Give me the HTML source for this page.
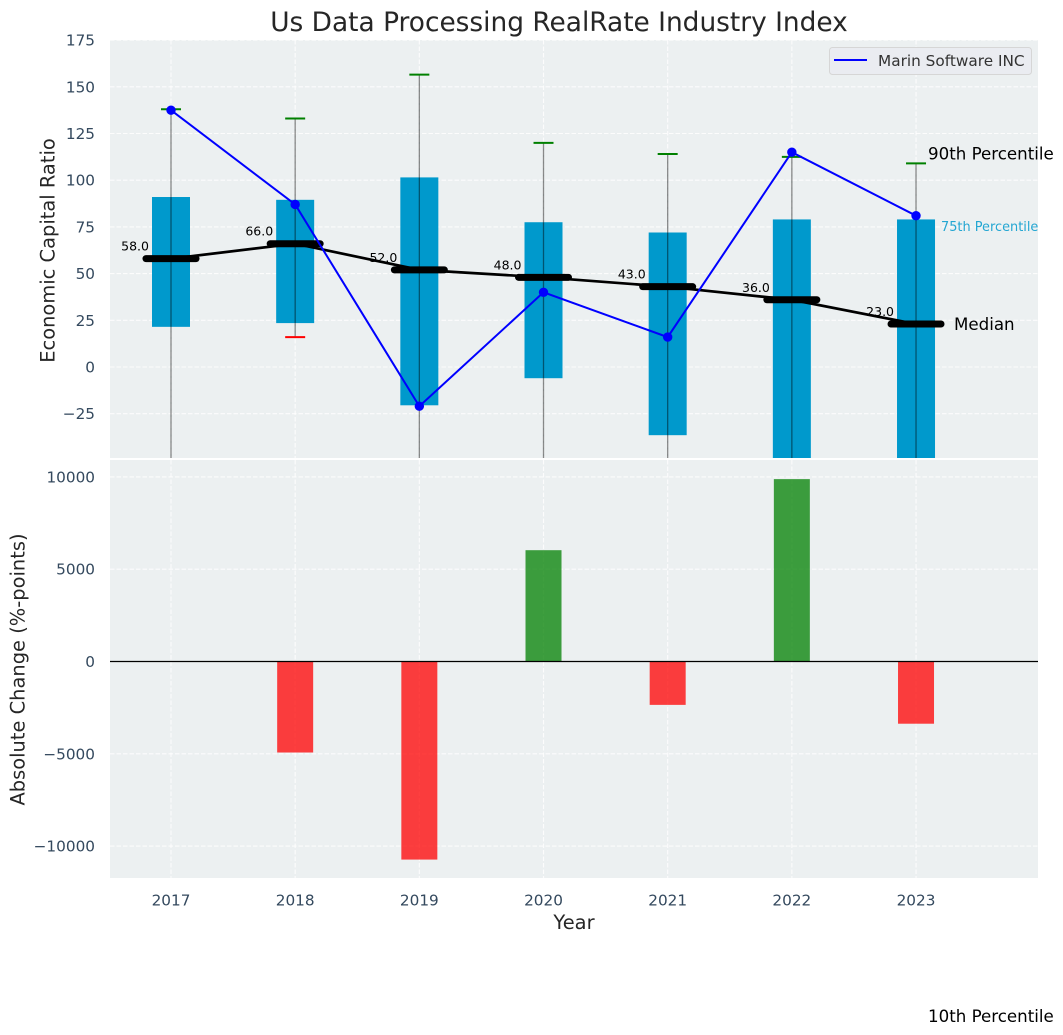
<!DOCTYPE html>
<html lang="en">
<head>
<meta charset="utf-8">
<title>Us Data Processing RealRate Industry Index</title>
<style>
html,body{margin:0;padding:0;background:#fff;width:1063px;height:1035px;overflow:hidden}
svg{display:block}
text{font-family:"DejaVu Sans","Liberation Sans",sans-serif}
</style>
</head>
<body>
<svg id="chart" xmlns="http://www.w3.org/2000/svg" width="1063" height="1035" viewBox="0 0 1063 1035">
  <defs>
    <clipPath id="top-clip"><rect x="110" y="40" width="928" height="418"/></clipPath>
    <clipPath id="bottom-clip"><rect x="110" y="460" width="928" height="418"/></clipPath>
  </defs>
  <rect x="110" y="40" width="928" height="418" fill="#ecf0f1"/>
  <rect x="110" y="460" width="928" height="418" fill="#ecf0f1"/>
  <g id="grid-top"></g>
  <g id="grid-bottom"></g>
  <g id="marks-top" clip-path="url(#top-clip)"></g>
  <g id="marks-bottom" clip-path="url(#bottom-clip)"></g>
  <g id="labels"></g>
  <text x="559" y="31" text-anchor="middle" font-size="26.4" fill="#262626">Us Data Processing RealRate Industry Index</text>
  <text transform="translate(54.5,250.5) rotate(-90)" text-anchor="middle" font-size="19.44" fill="#262626">Economic Capital Ratio</text>
  <text transform="translate(24.5,669.5) rotate(-90)" text-anchor="middle" font-size="19.44" fill="#262626">Absolute Change (%-points)</text>
  <text x="574" y="929" text-anchor="middle" font-size="19.44" fill="#262626">Year</text>
  <g>
    <rect x="829.5" y="47.5" width="202" height="27" rx="3" fill="#eaecf1" stroke="#d6d6d6" stroke-width="1"/>
    <line x1="834" y1="60" x2="867" y2="60" stroke="#0000ff" stroke-width="2"/>
    <text x="878" y="66" font-size="15.3" fill="#333333">Marin Software INC</text>
  </g>
</svg>
<script>
const years = [2017, 2018, 2019, 2020, 2021, 2022, 2023];
const companyValues = [137.5, 87, -21, 40, 16, 115, 81];
const medianValues = [58, 66, 52, 48, 43, 36, 23];
const p75Values = [91, 89.5, 101.5, 77.5, 72, 79, 79];
const p25Values = [21.5, 23.5, -20.5, -6, -36.5, -60, -60];
const p90Values = [138, 133, 156.5, 120, 114, 112.5, 109];
const p10Values = [-60, 16, -80, -70, -110, -150, -348];
const changeValues = [0, -4930, -10730, 6030, -2350, 9880, -3370];
const topTicks = [-25, 0, 25, 50, 75, 100, 125, 150, 175];
const bottomTicks = [-10000, -5000, 0, 5000, 10000];

const NS = 'http://www.w3.org/2000/svg';
const xScale = function (year) { return 171 + (year - 2017) * 124.17; };
const yTop = function (value) { return 367 - value * 1.868; };
const yBottom = function (value) { return 661.5 - value * 0.01846; };

const gridTop = document.getElementById('grid-top');
const gridBottom = document.getElementById('grid-bottom');
const marksTop = document.getElementById('marks-top');
const marksBottom = document.getElementById('marks-bottom');
const labels = document.getElementById('labels');

function make(tag, parent, attrs, content) {
  const node = document.createElementNS(NS, tag);
  Object.keys(attrs).forEach(function (k) { node.setAttribute(k, attrs[k]); });
  if (content !== undefined) node.textContent = content;
  parent.appendChild(node);
  return node;
}
const gridStyle = { stroke: '#ffffff', 'stroke-width': 1.1, 'stroke-dasharray': '4.5 2', opacity: 0.85 };
function gridLine(parent, x1, y1, x2, y2) {
  return make('line', parent, Object.assign({ x1: x1, y1: y1, x2: x2, y2: y2 }, gridStyle));
}

topTicks.forEach(function (t) {
  const gl = gridLine(gridTop, 110, yTop(t), 1038, yTop(t));
  
  
  const lb = make('text', labels, { x: 95, y: yTop(t) + 5.5, 'text-anchor': 'end', 'font-size': 15.28, fill: '#34495e' }, String(t).replace('-', '\u2212'));
  
  
});
bottomTicks.forEach(function (t) {
  const gl = gridLine(gridBottom, 110, yBottom(t), 1038, yBottom(t));
  
  
  const lb = make('text', labels, { x: 95, y: yBottom(t) + 5.5, 'text-anchor': 'end', 'font-size': 15.28, fill: '#34495e' }, String(t).replace('-', '\u2212'));
  
  
});

years.forEach(function (yr, i) {
  const x = xScale(yr);
  const g1 = gridLine(gridTop, x, 40, x, 458);
  
  
  const g2 = gridLine(gridBottom, x, 460, x, 878);
  
  
  const tl = make('text', labels, { x: x, y: 905.5, 'text-anchor': 'middle', 'font-size': 15.28, fill: '#34495e' }, String(yr));
  
  

  const box = make('rect', marksTop, { x: x - 19, y: yTop(p75Values[i]), width: 38, height: yTop(p25Values[i]) - yTop(p75Values[i]), fill: '#0099cc' });
  
  

  const whisker = make('line', marksTop, { x1: x, x2: x, y1: yTop(p90Values[i]), y2: yTop(p10Values[i]), stroke: '#000000', 'stroke-opacity': 0.45, 'stroke-width': 1.3 });
  
  

  const capHigh = make('line', marksTop, { x1: x - 10, x2: x + 10, y1: yTop(p90Values[i]), y2: yTop(p90Values[i]), stroke: '#008000', 'stroke-width': 2 });
  
  

  const capLow = make('line', marksTop, { x1: x - 10, x2: x + 10, y1: yTop(p10Values[i]), y2: yTop(p10Values[i]), stroke: '#ff0000', 'stroke-width': 2 });
  
  

  const change = changeValues[i];
  const bar = make('rect', marksBottom, { x: x - 18, y: Math.min(yBottom(change), yBottom(0)), width: 36, height: Math.abs(yBottom(change) - yBottom(0)), fill: change >= 0 ? '#008000' : '#ff0000', 'fill-opacity': 0.75 });
  
  
});

const zero = make('line', marksBottom, { x1: 110, x2: 1038, y1: yBottom(0), y2: yBottom(0), stroke: '#000000', 'stroke-width': 1.3 });



const medianPath = make('polyline', marksTop, { points: years.map(function (yr, i) { return xScale(yr) + ',' + yTop(medianValues[i]); }).join(' '), fill: 'none', stroke: '#000000', 'stroke-width': 2.7 });



years.forEach(function (yr, i) {
  const x = xScale(yr);
  const m = make('line', marksTop, { x1: x - 25, x2: x + 25, y1: yTop(medianValues[i]), y2: yTop(medianValues[i]), stroke: '#000000', 'stroke-width': 7, 'stroke-linecap': 'round' });
  
  
  const v = make('text', labels, { x: x - 22, y: yTop(medianValues[i]) - 8, 'text-anchor': 'end', 'font-size': 12.5, fill: '#000000' }, medianValues[i].toFixed(1));
  
  
});

const companyLine = make('polyline', marksTop, { points: years.map(function (yr, i) { return xScale(yr) + ',' + yTop(companyValues[i]); }).join(' '), fill: 'none', stroke: '#0000ff', 'stroke-width': 2 });


years.forEach(function (yr, i) {
  const p = make('circle', marksTop, { cx: xScale(yr), cy: yTop(companyValues[i]), r: 4.7, fill: '#0000ff' });
  
  
});

const lastIdx = years.length - 1;
const lastX = xScale(years[lastIdx]);
const a90 = make('text', labels, { x: lastX + 12, y: yTop(p90Values[lastIdx]) - 4, 'font-size': 16.67, fill: '#000000' }, '90th Percentile');


const a75 = make('text', labels, { x: lastX + 25, y: yTop(p75Values[lastIdx]) + 11.5, 'font-size': 12.9, fill: '#0099cc', 'fill-opacity': 0.85 }, '75th Percentile');


const aMed = make('text', labels, { x: lastX + 38, y: yTop(medianValues[lastIdx]) + 6, 'font-size': 16.67, fill: '#000000' }, 'Median');


const a10 = make('text', labels, { x: lastX + 12, y: yTop(p10Values[lastIdx]) + 5, 'font-size': 16.67, fill: '#000000' }, '10th Percentile');


</script>
</body>
</html>
